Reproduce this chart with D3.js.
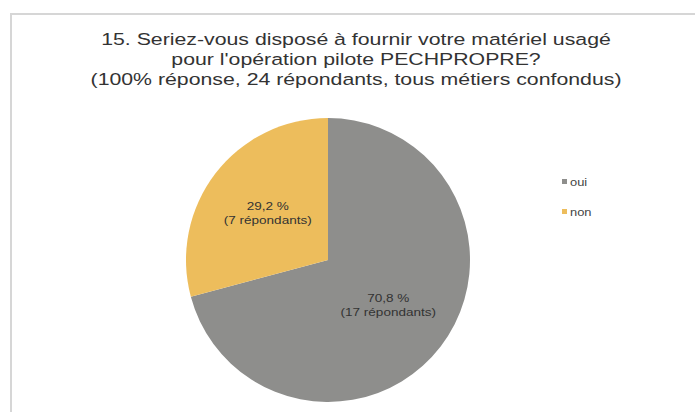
<!DOCTYPE html>
<html>
<head>
<meta charset="utf-8">
<script src="https://cdn.jsdelivr.net/npm/d3@7"></script>
<style>
  body { margin: 0; background: #fff; }
  svg { display: block; font-family: "Liberation Sans", Arial, sans-serif; }
</style>
</head>
<body>
<svg width="695" height="412"></svg>
<script>
// donnees du graphique
var categories = ["oui", "non"],
	repondants = [17, 7],
	couleurs = ["#8e8e8c", "#edbd5c"],
	titre = [
		"15. Seriez-vous disposé à fournir votre matériel usagé",
		"pour l'opération pilote PECHPROPRE?",
		"(100% réponse, 24 répondants, tous métiers confondus)"
	];

var svg = d3.select("svg"),
	cx = 328, cy = 260, r = 142,
	sx = 1.29,	// le texte de l'original est etire horizontalement
	total = d3.sum(repondants);

// cadre (bord haut et gauche)
svg.append("path")
	.attr("d", "M11,412 L11,14 L695,14")
	.attr("fill", "none")
	.attr("stroke", "#d6d6d6")
	.attr("stroke-width", 2);

// titre sur trois lignes
svg.append("g").selectAll("text")
	.data(titre)
	.join("text")
	.attr("transform", function(d, i) { return "translate(356," + (45 + i * 20) + ") scale(" + sx + ",1)"; })
	.attr("text-anchor", "middle")
	.attr("font-size", 16.5)
	.attr("fill", "#333")
	.text(function(d) { return d; });

var pie = d3.pie().sort(null).value(function(d) { return d.v; }),
	arc = d3.arc().innerRadius(0).outerRadius(r),
	labelArc = d3.arc().innerRadius(76).outerRadius(76);

var data = categories.map(function(c, i) { return { c: c, v: repondants[i], col: couleurs[i] }; });
var arcs = pie(data);

var g = svg.append("g").attr("transform", "translate(" + cx + "," + cy + ")");

g.selectAll("path")
	.data(arcs)
	.join("path")
	.attr("d", arc)
	.attr("fill", function(d) { return d.data.col; });

// etiquettes (pourcentage + nombre de repondants)
var lab = g.selectAll("g.lab")
	.data(arcs)
	.join("g")
	.attr("class", "lab")
	.attr("transform", function(d) { return "translate(" + labelArc.centroid(d) + ") scale(" + sx + ",1)"; });

lab.append("text")
	.attr("y", -4)
	.attr("text-anchor", "middle")
	.attr("font-size", 10.5)
	.attr("fill", "#333")
	.text(function(d) { return d3.format(".1f")(d.data.v / total * 100).replace(".", ",") + " %"; });

lab.append("text")
	.attr("y", 10)
	.attr("text-anchor", "middle")
	.attr("font-size", 10.5)
	.attr("fill", "#333")
	.text(function(d) { return "(" + d.data.v + " répondants)"; });

// legende
var leg = svg.append("g").selectAll("g")
	.data(data)
	.join("g")
	.attr("transform", function(d, i) { return "translate(562," + (183 + i * 30) + ")"; });

leg.append("rect")
	.attr("x", 0).attr("y", -4)
	.attr("width", 5).attr("height", 5)
	.attr("fill", function(d) { return d.col; });

leg.append("text")
	.attr("transform", "translate(8,3) scale(" + sx + ",1)")
	.attr("font-size", 10)
	.attr("fill", "#444")
	.text(function(d) { return d.c; });
</script>
</body>
</html>
